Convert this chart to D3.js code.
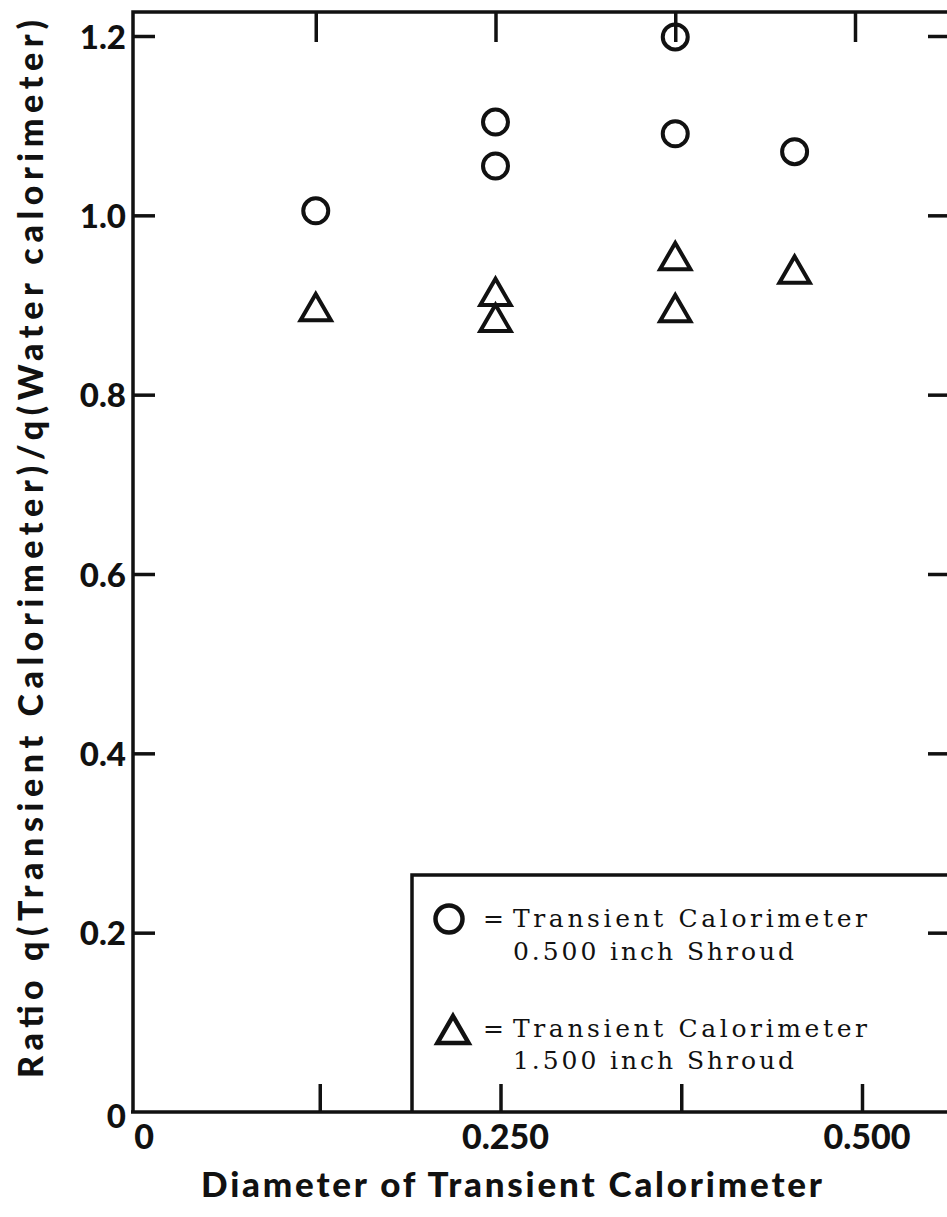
<!DOCTYPE html>
<html>
<head>
<meta charset="utf-8">
<script src="https://cdn.jsdelivr.net/npm/d3@7"></script>
<style>
  html, body { margin: 0; padding: 0; background: #fff; }
  svg { display: block; }
</style>
</head>
<body>
<script>
// Heat-flux ratio of transient calorimeter vs. water calorimeter
const diameters = [0.125, 0.25, 0.25, 0.375, 0.375, 0.458];
const ratioHalfInchShroud = [1.005, 1.104, 1.055, 1.199, 1.091, 1.071];

const diametersWide = [0.125, 0.25, 0.25, 0.375, 0.375, 0.458];
const ratioOneHalfInchShroud = [0.896, 0.913, 0.884, 0.953, 0.895, 0.938];

const yTicks = [0.2, 0.4, 0.6, 0.8, 1.0, 1.2];
const yTickLabels = ["0.2", "0.4", "0.6", "0.8", "1.0", "1.2"];
const xTicks = [0.125, 0.25, 0.375, 0.5];
const xLabelValues = [0, 0.25, 0.5];
const xLabels = ["0", "0.250", "0.500"];

const legendLines = [
  ["Transient Calorimeter", "0.500 inch Shroud"],
  ["Transient Calorimeter", "1.500 inch Shroud"]
];

const W = 947, H = 1217;
const svg = d3.select("body").append("svg").attr("width", W).attr("height", H);

const ink = "#111";
const sansFont = "Lato, 'DejaVu Sans', sans-serif";
const serifFont = "'DejaVu Serif', 'Liberation Serif', serif";

// scales: the plotting frame and the lower scale bar
const xUpper = d3.scaleLinear().domain([0, 0.5]).range([136, 855]);
const xLower = d3.scaleLinear().domain([0, 0.5]).range([139, 862]);
const y = d3.scaleLinear().domain([0, 1.2]).range([1112, 36]);

const frameLeft = 133, frameTop = 12, frameRight = 953, frameBottom = y(0);

// legend box (sits in the lower right of the frame)
const legend = svg.append("g");
legend.append("path")
  .attr("d", `M412,${frameBottom} V875 H${frameRight}`)
  .attr("fill", "none").attr("stroke", ink).attr("stroke-width", 3.5);

// frame
svg.append("path")
  .attr("d", `M${frameLeft},${frameBottom} V${frameTop} H${frameRight}`)
  .attr("fill", "none").attr("stroke", ink).attr("stroke-width", 3.5);
svg.append("line")
  .attr("x1", frameLeft - 2).attr("x2", frameRight).attr("y1", frameBottom).attr("y2", frameBottom)
  .attr("stroke", ink).attr("stroke-width", 3.5);

// top ticks hanging from the frame
const topAxis = svg.append("g").attr("transform", `translate(0,${frameTop})`)
  .call(d3.axisTop(xUpper).tickValues(xTicks).tickSize(-30).tickFormat(""));
topAxis.select(".domain").remove();
topAxis.selectAll("line").attr("stroke", ink).attr("stroke-width", 3.5);

// bottom ticks pointing up into the plot
const bottomAxis = svg.append("g").attr("transform", `translate(0,${frameBottom})`)
  .call(d3.axisBottom(xLower).tickValues(xTicks).tickSize(-28).tickFormat(""));
bottomAxis.select(".domain").remove();
bottomAxis.selectAll("line").attr("stroke", ink).attr("stroke-width", 3.5);

// left ticks
const leftAxis = svg.append("g").attr("transform", `translate(${frameLeft},0)`)
  .call(d3.axisLeft(y).tickValues(yTicks).tickSize(-22).tickFormat(""));
leftAxis.select(".domain").remove();
leftAxis.selectAll("line").attr("stroke", ink).attr("stroke-width", 3.5);

// right ticks
const rightAxis = svg.append("g").attr("transform", `translate(${frameRight},0)`)
  .call(d3.axisRight(y).tickValues(yTicks).tickSize(-25).tickFormat(""));
rightAxis.select(".domain").remove();
rightAxis.selectAll("line").attr("stroke", ink).attr("stroke-width", 3.5);

// y tick labels
svg.append("g").selectAll("text").data(yTicks).join("text")
  .attr("x", 126).attr("y", d => y(d) + 4)
  .attr("text-anchor", "end").attr("dominant-baseline", "middle")
  .attr("font-family", sansFont).attr("font-weight", 900).attr("font-size", 33)
  .attr("fill", ink)
  .text((d, i) => yTickLabels[i]);
svg.append("text")
  .attr("x", 126).attr("y", y(0) + 7)
  .attr("text-anchor", "end").attr("dominant-baseline", "middle")
  .attr("font-family", sansFont).attr("font-weight", 900).attr("font-size", 33)
  .attr("fill", ink).text("0");

// x tick labels
svg.append("g").selectAll("text").data(xLabelValues).join("text")
  .attr("x", d => xLower(d) + 5).attr("y", frameBottom + 28)
  .attr("text-anchor", "middle").attr("dominant-baseline", "middle")
  .attr("font-family", sansFont).attr("font-weight", 900).attr("font-size", 34)
  .attr("fill", ink)
  .text((d, i) => xLabels[i]);

// axis titles
svg.append("text")
  .attr("x", 201).attr("y", 1197)
  .attr("textLength", 621).attr("lengthAdjust", "spacing")
  .attr("font-family", sansFont).attr("font-weight", 900).attr("font-size", 35)
  .attr("fill", ink)
  .text("Diameter of  Transient  Calorimeter");

svg.append("text")
  .attr("transform", "translate(43,1078) rotate(-90)")
  .attr("textLength", 1058).attr("lengthAdjust", "spacing")
  .attr("font-family", sansFont).attr("font-weight", 900).attr("font-size", 34)
  .attr("fill", ink)
  .text("Ratio  q(Transient  Calorimeter)/q(Water  calorimeter)");

// data markers
const triangle = d3.symbol().type(d3.symbolTriangle).size(400);

svg.append("g").selectAll("circle").data(diameters).join("circle")
  .attr("cx", d => xUpper(d))
  .attr("cy", (d, i) => y(ratioHalfInchShroud[i]))
  .attr("r", 12.5)
  .attr("fill", "none").attr("stroke", ink).attr("stroke-width", 4);

svg.append("g").selectAll("path").data(diametersWide).join("path")
  .attr("d", triangle)
  .attr("transform", (d, i) => `translate(${xUpper(d)},${y(ratioOneHalfInchShroud[i]) + 3})`)
  .attr("fill", "none").attr("stroke", ink).attr("stroke-width", 4)
  .attr("stroke-linejoin", "miter");

// legend entries
legend.append("circle")
  .attr("cx", 449).attr("cy", 919).attr("r", 13.5)
  .attr("fill", "none").attr("stroke", ink).attr("stroke-width", 4.5);
legend.append("path")
  .attr("d", d3.symbol().type(d3.symbolTriangle).size(420))
  .attr("transform", "translate(453,1034)")
  .attr("fill", "none").attr("stroke", ink).attr("stroke-width", 4.5);

const rows = [
  { eqY: 927, lineY: [927, 960] },
  { eqY: 1037, lineY: [1037, 1069] }
];
rows.forEach((r, k) => {
  legend.append("text")
    .attr("x", 483).attr("y", r.eqY)
    .attr("font-family", serifFont).attr("font-size", 25).attr("fill", ink)
    .text("=");
  legend.append("text")
    .attr("x", 513).attr("y", r.lineY[0])
    .attr("textLength", 354).attr("lengthAdjust", "spacing")
    .attr("font-family", serifFont).attr("font-size", 25).attr("fill", ink)
    .text(legendLines[k][0]);
  legend.append("text")
    .attr("x", 513).attr("y", r.lineY[1])
    .attr("textLength", 281).attr("lengthAdjust", "spacing")
    .attr("font-family", serifFont).attr("font-size", 25).attr("fill", ink)
    .text(legendLines[k][1]);
});
</script>
</body>
</html>
